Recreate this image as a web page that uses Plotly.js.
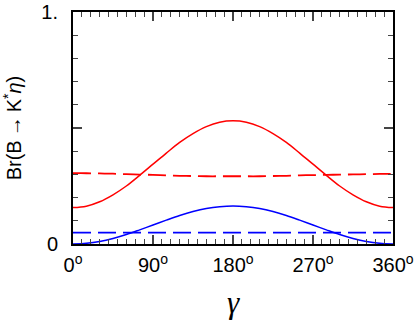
<!DOCTYPE html>
<html><head><meta charset="utf-8">
<script src="https://cdn.plot.ly/plotly-3.0.1.min.js"></script>
<style>html,body{margin:0;padding:0;background:#fff}#chart{width:420px;height:327px}</style>
</head><body><div id="chart"></div>
<script>
const gamma = [0,15,30,45,60,75,90,105,120,135,150,165,180,195,210,225,240,255,270,285,300,315,330,345,360];
const redSolid = [0.157,0.163,0.182,0.212,0.250,0.296,0.344,0.392,0.438,0.476,0.506,0.525,0.531,0.525,0.506,0.476,0.438,0.392,0.344,0.296,0.250,0.212,0.182,0.163,0.157];
const redDashed = [0.305,0.305,0.304,0.303,0.301,0.299,0.298,0.296,0.294,0.293,0.292,0.292,0.292,0.292,0.292,0.293,0.294,0.296,0.297,0.298,0.299,0.300,0.301,0.302,0.302];
const blueSolid = [0.000,0.003,0.011,0.024,0.041,0.061,0.082,0.103,0.123,0.140,0.153,0.161,0.164,0.161,0.153,0.140,0.123,0.103,0.082,0.061,0.041,0.024,0.011,0.003,0.000];
const blueDashed = [0.049,0.049,0.049,0.049,0.049,0.049,0.049,0.049,0.049,0.049,0.049,0.049,0.049,0.049,0.049,0.049,0.049,0.049,0.049,0.049,0.049,0.049,0.049,0.049,0.049];
const xTickVals = [0,90,180,270,360];
const xTickText = ["0<sup>o</sup>","90<sup>o</sup>","180<sup>o</sup>","270<sup>o</sup>","360<sup>o</sup>"];
const yTickVals = [0,0.5,1];
const yTickText = ["0","","1."];

const dash = "18px,7px";
const traces = [
  {x:gamma,y:redSolid,mode:"lines",line:{color:"#ff0000",width:1.5,shape:"spline"}},
  {x:gamma,y:redDashed,mode:"lines",line:{color:"#ff0000",width:1.8,dash:dash,shape:"spline"}},
  {x:gamma,y:blueSolid,mode:"lines",line:{color:"#0000ff",width:1.5,shape:"spline"}},
  {x:gamma,y:blueDashed,mode:"lines",line:{color:"#0000ff",width:1.8,dash:dash}}
];
const font = {family:"Liberation Sans, Arial, sans-serif",size:20,color:"#000"};
const layout = {
  width:420,height:327,
  margin:{l:73,r:27,t:12,b:83},
  showlegend:false,
  paper_bgcolor:"#fff",plot_bgcolor:"#fff",
  font:font,
  xaxis:{range:[0,360],tickvals:xTickVals,ticktext:xTickText,ticks:"inside",ticklen:9,tickwidth:1.5,
    showline:true,linewidth:2,linecolor:"#000",mirror:"allticks",showgrid:false,zeroline:false,
    minor:{dtick:10,ticks:"inside",ticklen:5,tickwidth:1.2,showgrid:false},
    tickfont:font,ticklabelstandoff:2,
    title:{text:"γ",font:{family:"Liberation Serif, Times New Roman, serif",size:31,style:"italic",weight:300},standoff:16}},
  yaxis:{range:[0,1],tickvals:yTickVals,ticktext:yTickText,ticks:"inside",ticklen:9,tickwidth:1.5,
    showline:true,linewidth:2,linecolor:"#000",mirror:"allticks",showgrid:false,zeroline:false,
    minor:{dtick:0.1,ticks:"inside",ticklen:5,tickwidth:1.2,showgrid:false},
    tickfont:font,ticklabelstandoff:9,
    title:{text:"Br(B\u2009→\u2009K<sup>*</sup><i>η</i>)",font:{family:"Liberation Sans, Arial, sans-serif",size:20},standoff:16}}
};
Plotly.newPlot("chart",traces,layout,{staticPlot:true,displayModeBar:false});
</script></body></html>
